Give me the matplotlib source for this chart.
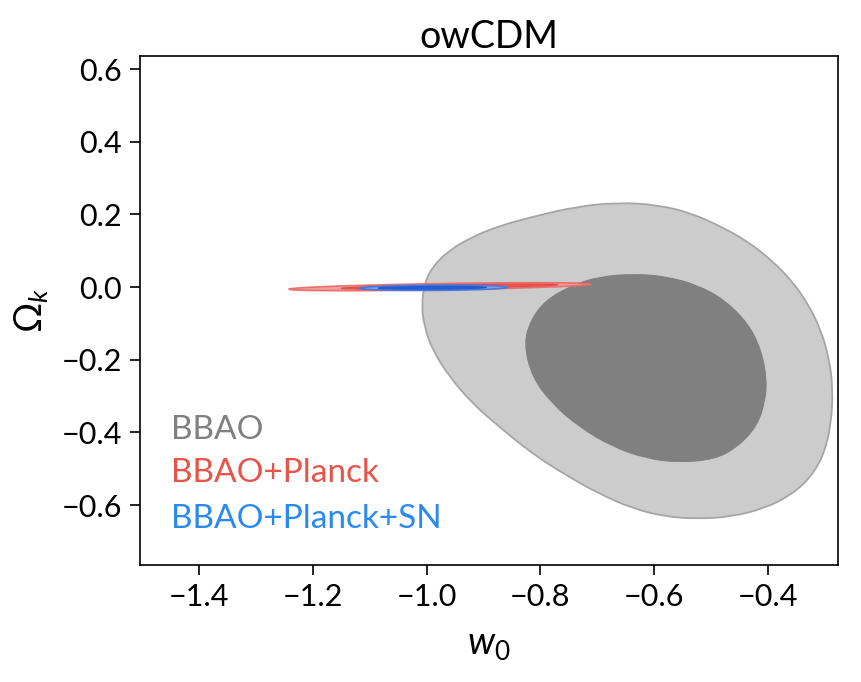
import numpy as np
import matplotlib
matplotlib.use("Agg")
import matplotlib.pyplot as plt
from matplotlib.patches import Polygon, PathPatch
from matplotlib.path import Path

plt.rcParams['font.family'] = ['Lato', 'DejaVu Sans']
plt.rcParams['mathtext.fontset'] = 'custom'
plt.rcParams['mathtext.rm'] = 'Lato'
plt.rcParams['mathtext.it'] = 'Lato:italic'
plt.rcParams['mathtext.sf'] = 'Lato'

# BBAO 95% contour (w0, Omega_k)
bbao95_w0 = [-0.663, -0.739, -0.815, -0.873, -0.920, -0.960, -0.990, -1.004, -1.009,
             -1.004, -0.990, -0.960, -0.920, -0.873, -0.815, -0.756, -0.698, -0.639,
             -0.581, -0.523, -0.464, -0.406, -0.359, -0.324, -0.301, -0.289, -0.286,
             -0.292, -0.307, -0.330, -0.359, -0.394, -0.435, -0.482, -0.534, -0.593]
bbao95_ok = [0.233, 0.221, 0.193, 0.168, 0.138, 0.102, 0.056, 0.010, -0.054,
             -0.109, -0.173, -0.247, -0.320, -0.384, -0.458, -0.517, -0.568, -0.609,
             -0.632, -0.638, -0.632, -0.609, -0.572, -0.522, -0.458, -0.375, -0.283,
             -0.201, -0.118, -0.045, 0.019, 0.074, 0.125, 0.166, 0.203, 0.226]

# BBAO 68% contour
bbao68_w0 = [-0.829, -0.817, -0.791, -0.744, -0.698, -0.639, -0.581, -0.523, -0.476,
             -0.435, -0.412, -0.402, -0.406, -0.420, -0.453, -0.493, -0.558, -0.616,
             -0.674, -0.733, -0.780, -0.815]
bbao68_ok = [-0.155, -0.091, -0.036, 0.005, 0.028, 0.036, 0.030, 0.005, -0.036,
             -0.100, -0.173, -0.256, -0.320, -0.384, -0.439, -0.474, -0.483, -0.471,
             -0.439, -0.384, -0.320, -0.247]

# Thin ellipses: centre w0, centre Ok, half-length in w0, half-width in Ok, slope
planck95 = dict(cw=-0.977, co=0.001, a=0.265, b=0.0085, s=0.026)
planck68 = dict(cw=-0.960, co=0.0015, a=0.19, b=0.0045, s=0.026)
sn95 = dict(cw=-0.988, co=-0.002, a=0.130, b=0.0072, s=0.01)
sn68 = dict(cw=-0.990, co=-0.002, a=0.095, b=0.0038, s=0.01)

labels = ['BBAO', 'BBAO+Planck', 'BBAO+Planck+SN']
label_colors = ['#808080', '#e8534a', '#2a8af0']


def thin_ellipse(p, n=200):
    t = np.linspace(0, 2 * np.pi, n)
    x = p['cw'] + p['a'] * np.cos(t)
    y = p['co'] + p['s'] * p['a'] * np.cos(t) + p['b'] * np.sin(t)
    return np.column_stack([x, y])


def smooth_closed_path(xs, ys):
    # quadratic B-spline: original points as control points, midpoints on curve
    P = np.column_stack([xs, ys])
    n = len(P)
    mids = (P + np.roll(P, -1, axis=0)) / 2.0
    verts = [mids[-1]]
    codes = [Path.MOVETO]
    for i in range(n):
        verts += [P[i], mids[i]]
        codes += [Path.CURVE3, Path.CURVE3]
    verts.append(mids[-1])
    codes.append(Path.CLOSEPOLY)
    return Path(np.array(verts), codes)


fig = plt.figure(figsize=(8.62, 6.82), dpi=100)
ax = fig.add_axes([140 / 862, 1 - 565 / 682, 698 / 862, 509 / 682])

ax.add_patch(PathPatch(smooth_closed_path(bbao95_w0, bbao95_ok),
                       facecolor='#cccccc', edgecolor='#a6a6a6', lw=1.3, zorder=1))
ax.add_patch(PathPatch(smooth_closed_path(bbao68_w0, bbao68_ok),
                       facecolor='#808080', edgecolor='#808080', lw=0.8, zorder=2))

ax.add_patch(Polygon(thin_ellipse(planck95), closed=True, facecolor='#f29a9a',
                     edgecolor='#ea6b66', lw=1.2, alpha=0.95, zorder=3))
ax.add_patch(Polygon(thin_ellipse(planck68), closed=True, facecolor='#e85a55',
                     edgecolor='#e04a45', lw=0.8, zorder=4))
ax.add_patch(Polygon(thin_ellipse(sn95), closed=True, facecolor='#7fa3ea',
                     edgecolor='#4c78dc', lw=1.2, zorder=5))
ax.add_patch(Polygon(thin_ellipse(sn68), closed=True, facecolor='#2360d8',
                     edgecolor='#2058d0', lw=0.8, zorder=6))

ax.set_xlim(-1.504, -0.277)
ax.set_ylim(-0.765, 0.636)
ax.set_xticks([-1.4, -1.2, -1.0, -0.8, -0.6, -0.4])
ax.set_yticks([-0.6, -0.4, -0.2, 0.0, 0.2, 0.4, 0.6])
ax.tick_params(labelsize=22, length=7, width=1.2, direction='out', pad=6)
for sp in ax.spines.values():
    sp.set_linewidth(1.2)

ax.set_xlabel(r'$w_0$', fontsize=27, labelpad=11)
ax.set_ylabel(r'$\Omega_k$', fontsize=27, labelpad=8)
ax.set_title('owCDM', fontsize=27, pad=6)

ys = [0.266, 0.180, 0.091]
for lab, c, yy in zip(labels, label_colors, ys):
    ax.text(0.045, yy, lab, color=c, fontsize=24, transform=ax.transAxes,
            ha='left', va='center')

fig.savefig('out.png', dpi=100)
